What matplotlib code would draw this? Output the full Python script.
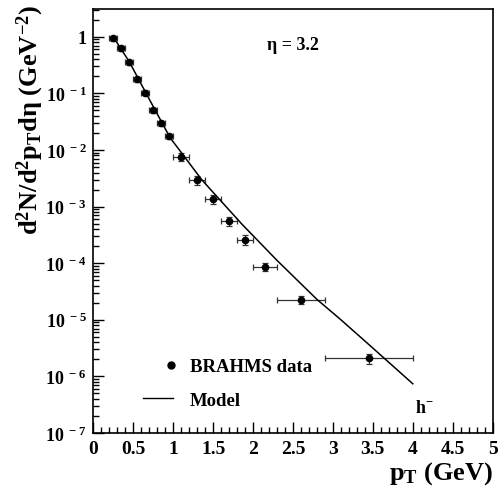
import numpy as np
import matplotlib
matplotlib.use('Agg')
from matplotlib import pyplot as plt
from matplotlib.ticker import MultipleLocator, LogLocator, FuncFormatter, NullFormatter
from matplotlib.lines import Line2D
from matplotlib.legend_handler import HandlerLine2D

plt.rcParams['font.family'] = ['Liberation Serif', 'DejaVu Serif']
plt.rcParams['font.weight'] = 'bold'
plt.rcParams['axes.labelweight'] = 'bold'
plt.rcParams['mathtext.fontset'] = 'custom'
plt.rcParams['mathtext.rm'] = 'Liberation Serif:bold'
plt.rcParams['mathtext.bf'] = 'Liberation Serif:bold'
plt.rcParams['mathtext.it'] = 'Liberation Serif:bold'
plt.rcParams['mathtext.default'] = 'bf'

# BRAHMS h- spectrum at eta = 3.2
pt = [0.25, 0.35, 0.45, 0.55, 0.65, 0.75, 0.85, 0.95,
      1.1, 1.3, 1.5, 1.7, 1.9, 2.15, 2.6, 3.45]
dndpt = [0.94, 0.63, 0.354, 0.179, 0.1025, 0.0506, 0.0294, 0.0177,
         7.65e-3, 2.95e-3, 1.38e-3, 5.47e-4, 2.62e-4, 8.7e-5, 2.27e-5, 2.1e-6]
pt_err = [0.05, 0.05, 0.05, 0.05, 0.05, 0.05, 0.05, 0.05,
          0.1, 0.1, 0.1, 0.1, 0.1, 0.15, 0.3, 0.55]
rel_err = [0.1, 0.1, 0.1, 0.1, 0.1, 0.1, 0.1, 0.1,
           0.18, 0.2, 0.18, 0.18, 0.2, 0.17, 0.15, 0.2]

# Model curve
pt_model = [0.29, 0.45, 0.65, 0.96, 1.36, 1.86, 2.3, 2.8, 3.1, 3.5, 4.0]
dndpt_model = [0.813, 0.363, 0.107, 0.0166, 2.95e-3, 4.9e-4, 1.12e-4,
               2.29e-5, 1.0e-5, 3.16e-6, 7.4e-7]

pt = np.array(pt)
dndpt = np.array(dndpt)
yerr = dndpt * np.array(rel_err)


class MarkerAtEnd(HandlerLine2D):
    # put the legend marker at the right end of the handle, like ROOT does
    def get_xdata(self, legend, xdescent, ydescent, width, height, fontsize):
        xdata, xmark = super().get_xdata(legend, xdescent, ydescent, width,
                                         height, fontsize)
        xend = xdata[-1] - 1
        return [xend, xend], [xend]


fig = plt.figure(figsize=(4.98, 4.89), dpi=100)
ax = fig.add_axes([0.1874, 0.1125, 0.8019, 0.8671])

ax.errorbar(pt, dndpt, xerr=pt_err, yerr=yerr, fmt='o', color='black',
            ecolor='#333333', elinewidth=0.9, capsize=2.5, capthick=0.9,
            markersize=4.5)
ax.plot(pt_model, dndpt_model, color='black', linewidth=1.1)

ax.set_yscale('log')
ax.set_xlim(0, 5)
ax.set_ylim(1e-7, 3.1)

ax.xaxis.set_major_locator(MultipleLocator(0.5))
ax.xaxis.set_minor_locator(MultipleLocator(0.1))
ax.xaxis.set_major_formatter(FuncFormatter(lambda v, p: '%g' % v))
ax.yaxis.set_major_locator(LogLocator(base=10, numticks=20))
ax.yaxis.set_minor_locator(LogLocator(base=10, subs=np.arange(2, 10), numticks=20))
ax.yaxis.set_minor_formatter(NullFormatter())


def ylab(v, p):
    k = int(round(np.log10(v)))
    if k == 0:
        return '1'
    return r'$10^{\ %d}$' % k


ax.yaxis.set_major_formatter(FuncFormatter(ylab))
ax.tick_params(which='both', direction='in', top=False, right=False,
               width=1.0)
ax.tick_params(axis='x', labelsize=14)
ax.tick_params(axis='y', labelsize=13)
ax.tick_params(which='major', length=8, pad=5)
ax.tick_params(which='minor', length=4)
for s in ax.spines.values():
    s.set_linewidth(1.2)

ax.set_xlabel(r'$p_T$ (GeV)', fontsize=19, loc='right')
ax.xaxis.set_label_coords(1.0, -0.062)
ax.set_ylabel(r'd$^2$N/d$^2$p$_T$d$\eta$ (GeV$^{-2}$)', fontsize=19, loc='top')
ax.yaxis.set_label_coords(-0.118, 1.012)

ax.text(0.435, 0.917, 'η = 3.2', transform=ax.transAxes, fontsize=13,
        va='center', ha='left')
ax.text(0.805, 0.061, r'h$^{-}$', transform=ax.transAxes, fontsize=13,
        va='center', ha='left')

data_handle = Line2D([], [], marker='o', color='black', linestyle='none',
                     markersize=5)
model_handle = Line2D([], [], color='black', linewidth=1.0)
ax.legend([data_handle, model_handle], ['BRAHMS data', 'Model'],
          handler_map={data_handle: MarkerAtEnd(numpoints=1)},
          loc='upper left', bbox_to_anchor=(0.124, 0.176), frameon=False,
          fontsize=13.5, handlelength=1.6, handletextpad=0.9,
          labelspacing=0.86, borderpad=0, borderaxespad=0)

plt.savefig('out.png', dpi=100)
